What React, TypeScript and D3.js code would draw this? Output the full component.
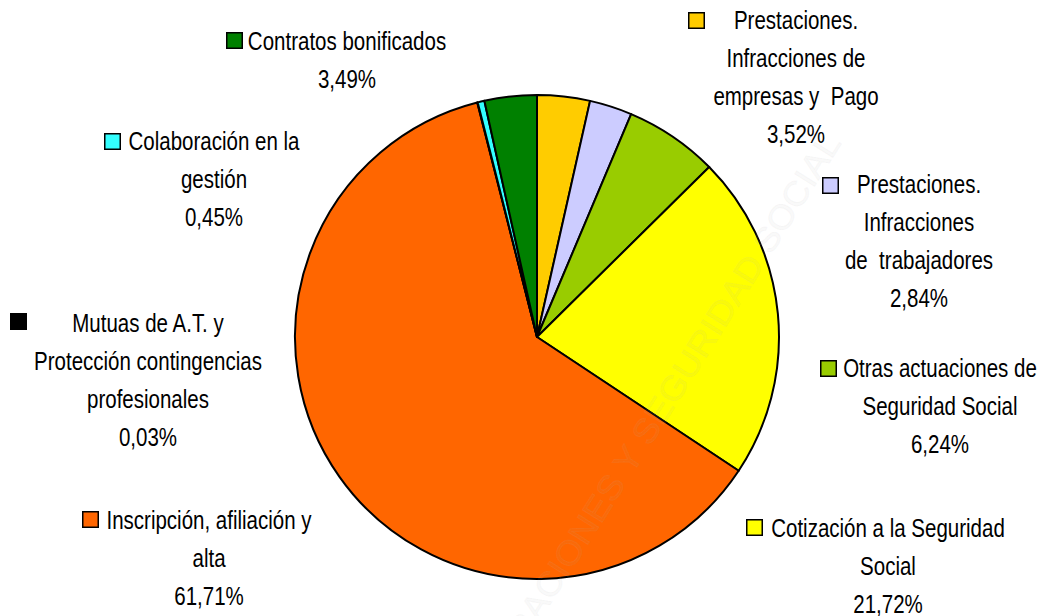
import React from "react";
import * as d3 from "d3";

const categories = [
  "Prestaciones. Infracciones de empresas y Pago",
  "Prestaciones. Infracciones de trabajadores",
  "Otras actuaciones de Seguridad Social",
  "Cotización a la Seguridad Social",
  "Inscripción, afiliación y alta",
  "Mutuas de A.T. y Protección contingencias profesionales",
  "Colaboración en la gestión",
  "Contratos bonificados",
];
const values = [3.52, 2.84, 6.24, 21.72, 61.71, 0.03, 0.45, 3.49];
const valueLabels = ["3,52%", "2,84%", "6,24%", "21,72%", "61,71%", "0,03%", "0,45%", "3,49%"];
const colors = ["#FFCC00", "#CCCCFF", "#99CC00", "#FFFF00", "#FF6600", "#000000", "#33FFFF", "#008000"];
const labelLines = [
  ["Prestaciones.", "Infracciones de", "empresas y  Pago"],
  ["Prestaciones.", "Infracciones", "de  trabajadores"],
  ["Otras actuaciones de", "Seguridad Social"],
  ["Cotización a la Seguridad", "Social"],
  ["Inscripción, afiliación y", "alta"],
  ["Mutuas de A.T. y", "Protección contingencias", "profesionales"],
  ["Colaboración en la", "gestión"],
  ["Contratos bonificados"],
];

// label layout: block centre x, first baseline y, key box x/y
const labelLayout = [
  { cx: 796, y: 29, kx: 688, ky: 12 },
  { cx: 919, y: 193, kx: 822, ky: 177 },
  { cx: 940, y: 377, kx: 820, ky: 360 },
  { cx: 888, y: 537, kx: 746, ky: 519 },
  { cx: 209, y: 529, kx: 82, ky: 511 },
  { cx: 148, y: 332, kx: 10, ky: 313 },
  { cx: 214, y: 150, kx: 104, ky: 133 },
  { cx: 347, y: 50, kx: 226, ky: 32 },
];

const W = 1038;
const H = 616;
const CX = 537;
const CY = 337;
const R = 242;
const LINE = 38;
const FONT = "'Liberation Sans', Arial, sans-serif";

export default function App() {
  const pie = d3.pie<number>().sort(null).value((d) => d);
  const arcs = pie(values);
  const arc = d3.arc<d3.PieArcDatum<number>>().innerRadius(0).outerRadius(R);

  return (
    <svg
      width={W}
      height={H}
      viewBox={`0 0 ${W} ${H}`}
      style={{ position: "absolute", left: 0, top: 0, background: "#fff" }}
    >
      <rect width={W} height={H} fill="#fff" />
      <g transform={`translate(${CX},${CY})`}>
        {arcs.map((a, i) => (
          <path
            key={categories[i]}
            d={arc(a) || ""}
            fill={colors[i]}
            stroke="#000"
            strokeWidth={2}
            strokeLinejoin="round"
          />
        ))}
      </g>
      {/* watermark */}
      <text
        transform="translate(842,143) rotate(-57.7)"
        textAnchor="end"
        fontFamily={FONT}
        fontSize={34}
        fill="#aaa"
        fillOpacity={0.06}
        stroke="#bbb"
        strokeOpacity={0.1}
        strokeWidth={1}
        textLength={662}
        lengthAdjust="spacingAndGlyphs"
      >
        MIGRACIONES Y SEGURIDAD SOCIAL
      </text>
      {labelLayout.map((l, i) => {
        const lines = [...labelLines[i], valueLabels[i]];
        return (
          <g key={"lab" + i}>
            <rect
              x={l.kx + 0.75}
              y={l.ky + 0.75}
              width={15.5}
              height={15.5}
              fill={colors[i]}
              stroke="#000"
              strokeWidth={1.5}
            />
            {lines.map((t, j) => (
              <text
                key={j}
                transform={`translate(${l.cx},${l.y + j * LINE}) scale(0.82,1)`}
                textAnchor="middle"
                fontFamily={FONT}
                fontSize={25}
                fill="#000"
                style={{ whiteSpace: "pre" }}
              >
                {t}
              </text>
            ))}
          </g>
        );
      })}
    </svg>
  );
}
